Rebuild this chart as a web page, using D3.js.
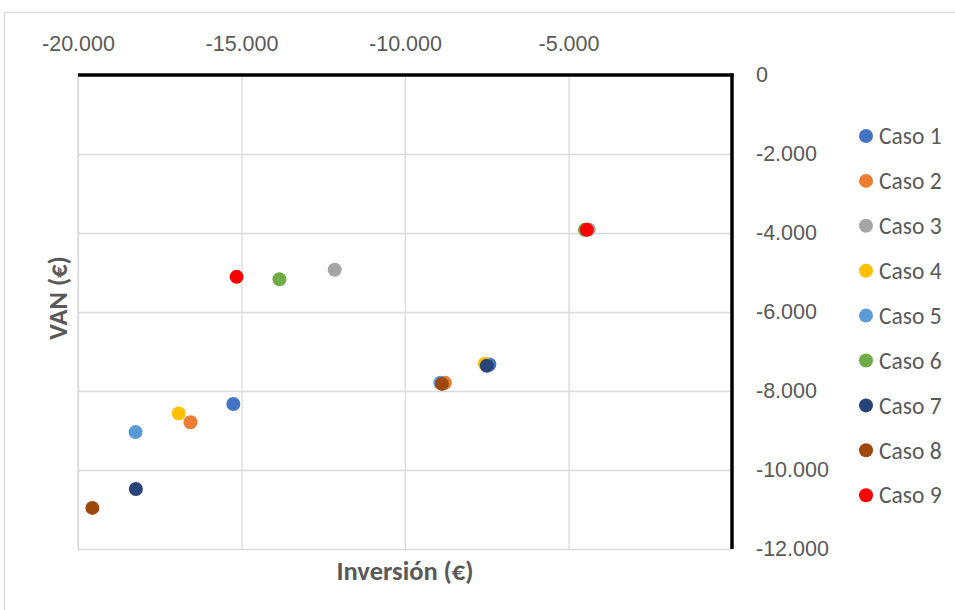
<!DOCTYPE html>
<html>
<head>
<meta charset="utf-8">
<script src="https://cdn.jsdelivr.net/npm/d3@7"></script>
<style>
  html, body { margin: 0; padding: 0; background: #fff; }
  svg { display: block; font-family: Carlito, Calibri, Lato, "Open Sans", sans-serif; }
</style>
</head>
<body>
<svg id="chart" width="955" height="610"></svg>
<script>
// Series names and colours
const casos = ["Caso 1", "Caso 2", "Caso 3", "Caso 4", "Caso 5", "Caso 6", "Caso 7", "Caso 8", "Caso 9"];
const colores = ["#4472C4", "#ED7D31", "#A5A5A5", "#FFC000", "#5B9BD5", "#70AD47", "#264478", "#9E480E", "#FF0000"];

// First point of each case (Inversión, VAN)
const inversionA = [-15250, -16560, -12150, -16920, -18240, -13840, -18230, -19560, -15150];
const vanA       = [-8330,  -8790,  -4930,  -8570,  -9040,  -5170,  -10480, -10960, -5110];

// Second point of each case (Inversión, VAN)
const inversionB = [-7420, -8780, -4380, -7560, -8920, -4500, -7500, -8870, -4440];
const vanB       = [-7330, -7790, -3910, -7310, -7790, -3920, -7360, -7820, -3920];

// Axis ticks
const xTicks = [-20000, -15000, -10000, -5000];
const yTicks = [0, -2000, -4000, -6000, -8000, -10000, -12000];

const locale = d3.formatLocale({ decimal: ",", thousands: ".", grouping: [3], currency: ["", " €"], minus: "-" });
const fmt = locale.format(",.0f");

const svg = d3.select("#chart");
const textColor = "#595959";
const gridColor = "#d9d9d9";

// Chart frame
svg.append("rect")
  .attr("x", 4.5).attr("y", 12.5)
  .attr("width", 1000).attr("height", 700)
  .attr("fill", "#fff").attr("stroke", gridColor).attr("stroke-width", 1.3);

const x = d3.scaleLinear().domain([-20000, 0]).range([78, 732]);
const y = d3.scaleLinear().domain([-12000, 0]).range([549, 75]);

// Gridlines
svg.append("g")
  .attr("transform", `translate(0,${y(-12000)})`)
  .call(d3.axisBottom(x).tickValues(xTicks).tickSize(-(y(-12000) - y(0))).tickFormat(""))
  .call(g => g.select(".domain").remove())
  .call(g => g.selectAll("line").attr("stroke", gridColor).attr("stroke-width", 1.3));

svg.append("g")
  .attr("transform", `translate(${x(-20000)},0)`)
  .call(d3.axisLeft(y).tickValues(yTicks.filter(v => v !== 0)).tickSize(-(x(0) - x(-20000))).tickFormat(""))
  .call(g => g.select(".domain").remove())
  .call(g => g.selectAll("line").attr("stroke", gridColor).attr("stroke-width", 1.3));

// Left plot-area edge
svg.append("line")
  .attr("x1", x(-20000)).attr("x2", x(-20000))
  .attr("y1", y(0)).attr("y2", y(-12000))
  .attr("stroke", gridColor).attr("stroke-width", 1.3);

// Tick labels: X along the top, Y on the right
svg.append("g")
  .attr("transform", "translate(0,51)")
  .call(d3.axisTop(x).tickValues(xTicks).tickSize(0).tickPadding(0).tickFormat(fmt))
  .call(g => g.select(".domain").remove())
  .call(g => g.selectAll("text")
    .attr("fill", textColor).style("font-size", "21.5px").style("font-family", null));

svg.append("g")
  .attr("transform", "translate(756,0)")
  .call(d3.axisRight(y).tickValues(yTicks).tickSize(0).tickPadding(0).tickFormat(fmt))
  .call(g => g.select(".domain").remove())
  .call(g => g.selectAll("text")
    .attr("fill", textColor).style("font-size", "21.5px").style("font-family", null));

// Main axes crossing at zero (thick black)
svg.append("line")
  .attr("x1", x(-20000)).attr("x2", x(0) + 1.5)
  .attr("y1", y(0)).attr("y2", y(0))
  .attr("stroke", "#000").attr("stroke-width", 3.5);
svg.append("line")
  .attr("x1", x(0)).attr("x2", x(0))
  .attr("y1", y(0) - 1.5).attr("y2", y(-12000))
  .attr("stroke", "#000").attr("stroke-width", 3.5);

// Axis titles
svg.append("text")
  .attr("x", 405).attr("y", 580)
  .attr("text-anchor", "middle")
  .attr("fill", textColor).style("font-size", "26.5px").style("font-weight", "bold")
  .text("Inversión (€)");

svg.append("text")
  .attr("transform", "translate(67,298) rotate(-90)")
  .attr("text-anchor", "middle")
  .attr("fill", textColor).style("font-size", "26.5px").style("font-weight", "bold")
  .text("VAN (€)");

// Points, one group per case
const points = svg.append("g");
casos.forEach((c, i) => {
  const pts = [[inversionA[i], vanA[i]], [inversionB[i], vanB[i]]];
  points.append("g").selectAll("circle")
    .data(pts)
    .join("circle")
    .attr("cx", d => x(d[0]))
    .attr("cy", d => y(d[1]))
    .attr("r", 7)
    .attr("fill", colores[i]);
});

// Legend
const legend = svg.append("g");
casos.forEach((c, i) => {
  const ly = 136 + i * 44.9;
  legend.append("circle")
    .attr("cx", 866).attr("cy", ly).attr("r", 7).attr("fill", colores[i]);
  legend.append("text")
    .attr("x", 879).attr("y", ly).attr("dy", "0.35em")
    .attr("fill", textColor).style("font-size", "23.5px")
    .text(c);
});
</script>
</body>
</html>
